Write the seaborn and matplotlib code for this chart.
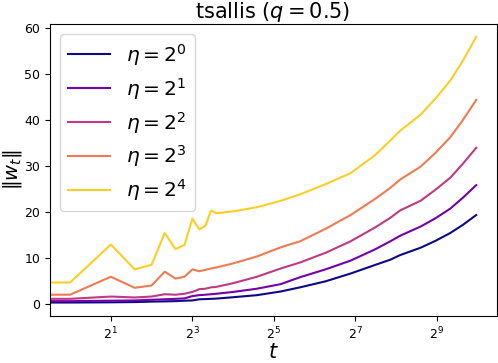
# Norm of the weights over time for tsallis (q = 0.5), one line per step size
import numpy as np
import pandas as pd
import seaborn as sns
import matplotlib
matplotlib.use("Agg")
import matplotlib.pyplot as plt
from matplotlib.ticker import NullLocator

t = [0, 1, 2, 3, 4, 5, 6, 7, 8, 9, 10, 11, 12, 16, 24, 36, 50, 77, 118, 179, 232, 274,
     388, 500, 643, 800, 1000]

eta_1 = [0.3, 0.3, 0.35, 0.4, 0.5, 0.55, 0.6, 0.7, 0.75, 1.0, 1.05, 1.1, 1.15, 1.45, 1.9, 2.7,
         3.6, 4.9, 6.6, 8.46, 9.6, 10.6, 12.2, 13.7, 15.4, 17.2, 19.3]
eta_2 = [0.6, 0.6, 0.7, 0.75, 0.9, 1.0, 1.1, 1.2, 1.7, 1.9, 2.0, 2.1, 2.2, 2.6, 3.3, 4.3,
         5.8, 7.5, 9.4, 11.85, 13.6, 14.8, 16.8, 18.6, 20.7, 23.1, 25.8]
eta_4 = [1.1, 1.1, 1.6, 1.4, 1.6, 2.1, 2.0, 2.2, 2.6, 3.2, 3.3, 3.6, 3.7, 4.5, 5.9, 7.7,
         9.0, 11.1, 13.6, 16.6, 18.7, 20.3, 22.4, 24.8, 27.4, 30.5, 33.9]
eta_8 = [2.0, 2.0, 5.9, 3.5, 4.0, 7.0, 5.5, 5.9, 7.5, 7.1, 7.4, 7.7, 7.9, 8.8, 10.3, 12.3,
         13.6, 16.3, 19.3, 22.8, 25.2, 27.0, 29.8, 32.8, 36.2, 40.0, 44.3]
eta_16 = [4.65, 4.65, 12.9, 7.5, 8.5, 15.4, 11.9, 12.8, 18.5, 16.2, 17.0, 20.3, 19.7, 20.1, 21.0, 22.4,
          23.8, 26.0, 28.4, 32.3, 35.5, 37.6, 41.1, 44.6, 48.5, 52.9, 58.0]

series = [eta_1, eta_2, eta_4, eta_8, eta_16]
labels = [r'$\eta = 2^{%d}$' % k for k in range(5)]
colors = plt.get_cmap('plasma')(np.linspace(0, 0.9, 5))

fig, ax = plt.subplots(figsize=(4.98, 3.63), dpi=100)
for vals, lab, col in zip(series, labels, colors):
    df = pd.DataFrame({'t': t, 'w': vals})
    sns.lineplot(data=df, x='t', y='w', label=lab, color=col, linewidth=1.5, ax=ax)

ax.set_xscale('log', base=2)
ax.set_xticks([2, 8, 32, 128, 512])
ax.xaxis.set_minor_locator(NullLocator())
ax.tick_params(labelsize=9)

ax.set_title(r'tsallis ($q = 0.5$)', fontsize=15, pad=3)
ax.set_xlabel('$t$', fontsize=15, labelpad=0)
ax.set_ylabel(r'$\|w_t\|$', fontsize=14, labelpad=0)
ax.legend(loc='upper left', fontsize=14.5, labelspacing=0.4, handlelength=2.1)

fig.subplots_adjust(left=0.1, right=0.997, top=0.935, bottom=0.13)
fig.savefig('out.png', dpi=100)
